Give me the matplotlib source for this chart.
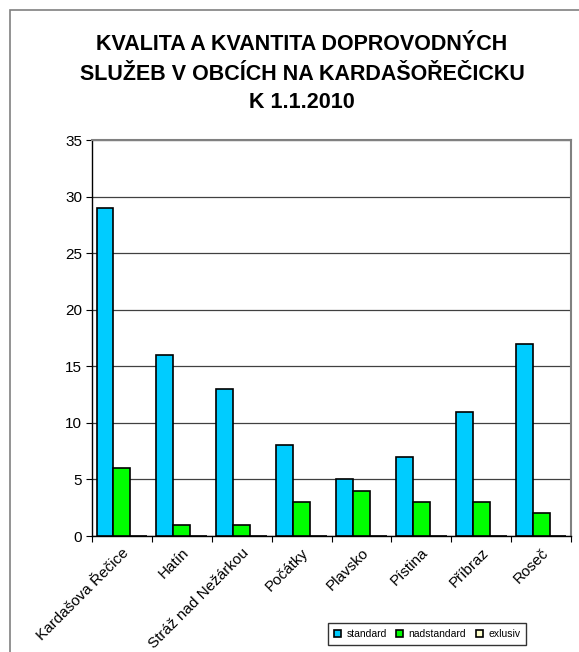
import matplotlib
matplotlib.use("Agg")
import matplotlib.pyplot as plt
from matplotlib.patches import Rectangle
import numpy as np

categories = ["Kardašova Řečice", "Hatín", "Stráž nad Nežárkou", "Počátky",
              "Plavsko", "Pístina", "Příbraz", "Roseč"]
standard = [29, 16, 13, 8, 5, 7, 11, 17]
nadstandard = [6, 1, 1, 3, 4, 3, 3, 2]
exlusiv = [0, 0, 0, 0, 0, 0, 0, 0]
series_names = ["standard", "nadstandard", "exlusiv"]
colors = ["#00CCFF", "#00FF00", "#FFFFCC"]
title = "KVALITA A KVANTITA DOPROVODNÝCH\nSLUŽEB V OBCÍCH NA KARDAŠOŘEČICKU\nK 1.1.2010"

plt.rcParams['font.family'] = ['Liberation Sans', 'DejaVu Sans']

fig = plt.figure(figsize=(5.79, 6.52), dpi=100)
fig.patch.set_facecolor("white")
# outer chart border
fig.patches.append(Rectangle((10/579, -0.05), 1.2, 1 - 10/652 + 0.05,
                             transform=fig.transFigure, fill=False,
                             edgecolor="#808080", linewidth=1.2))

ax = fig.add_axes([92/579, 1 - 536/652, (571 - 92)/579, (536 - 140)/652])
x = np.arange(len(categories))
w = 0.283
for i, (vals, name, c) in enumerate(zip([standard, nadstandard, exlusiv], series_names, colors)):
    ax.bar(x + (i - 1) * w, vals, width=w, color=c, edgecolor="black",
           linewidth=1.2, label=name, zorder=3)

ax.set_xlim(-0.5, len(categories) - 0.5)
ax.set_ylim(0, 35)
ax.set_yticks(range(0, 36, 5))
ax.yaxis.grid(True, color="#404040", linewidth=0.9, zorder=0)
ax.set_axisbelow(True)
ax.set_xticks(np.arange(len(categories) + 1) - 0.5, minor=False)
ax.set_xticklabels([])
ax.set_xticks(x, minor=True)
ax.set_xticklabels(categories, minor=True, rotation=45, ha="right",
                   rotation_mode="anchor", fontsize=11)
ax.tick_params(axis="x", which="minor", length=0, pad=7)
ax.tick_params(axis="x", which="major", length=4, direction="out", color="black")
ax.tick_params(axis="y", length=4, direction="out", labelsize=11, color="black", pad=3)
for s in ["top", "right"]:
    ax.spines[s].set_color("#808080")
    ax.spines[s].set_linewidth(1.5)
for s in ["left", "bottom"]:
    ax.spines[s].set_color("black")
    ax.spines[s].set_linewidth(1.0)

fig.text(302/579, 1 - 74/652, title, ha="center", va="center",
         fontsize=15.5, fontweight="bold", linespacing=1.5)

leg = fig.legend(loc="center", bbox_to_anchor=(427/579, 1 - 634/652), ncol=3,
                 fontsize=7.5, frameon=True, fancybox=False, handlelength=0.7,
                 handleheight=0.7, handletextpad=0.5, columnspacing=0.9,
                 borderpad=0.6)
leg.get_frame().set_edgecolor("black")
leg.get_frame().set_linewidth(1.0)

fig.savefig("out.png", dpi=100)
